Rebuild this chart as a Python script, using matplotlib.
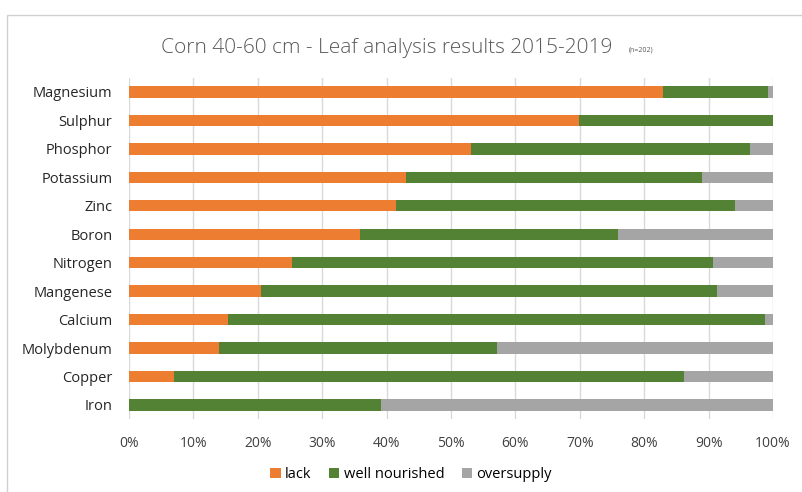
import numpy as np
import matplotlib.pyplot as plt
from matplotlib.patches import Rectangle

plt.rcParams['font.family'] = ['Open Sans', 'DejaVu Sans']

nutrients = ['Magnesium', 'Sulphur', 'Phosphor', 'Potassium', 'Zinc', 'Boron',
             'Nitrogen', 'Mangenese', 'Calcium', 'Molybdenum', 'Copper', 'Iron']
lack = [82.9, 69.9, 53.1, 43.0, 41.5, 35.9, 25.3, 20.5, 15.4, 14.0, 7.0, 0.0]
well = [16.3, 30.1, 43.3, 46.0, 52.6, 40.0, 65.4, 70.8, 83.4, 43.1, 79.2, 39.1]
over = [0.8, 0.0, 3.6, 11.0, 5.9, 24.1, 9.3, 8.7, 1.2, 42.9, 13.8, 60.9]

c_lack = '#ED7D31'
c_well = '#548235'
c_over = '#A5A5A5'

fig = plt.figure(figsize=(8.03, 4.92), dpi=100)
ax = fig.add_axes([0.1606, 0.148, 0.802, 0.694])

y = np.arange(len(nutrients))[::-1]
h = 0.4
lack_f = np.array(lack) / 100
well_f = np.array(well) / 100
over_f = np.array(over) / 100
ax.barh(y, lack_f, height=h, color=c_lack, label='lack', zorder=3)
ax.barh(y, well_f, left=lack_f, height=h, color=c_well, label='well nourished', zorder=3)
ax.barh(y, over_f, left=lack_f + well_f, height=h, color=c_over, label='oversupply', zorder=3)

ax.set_xlim(0, 1)
ax.set_ylim(-0.5, len(nutrients) - 0.5)
ax.set_xticks(np.arange(0, 1.01, 0.1))
ax.set_xticklabels([f'{int(round(v * 100))}%' for v in np.arange(0, 1.01, 0.1)])
ax.set_yticks(y)
ax.set_yticklabels(nutrients)
ax.grid(axis='x', color='#D9D9D9', linewidth=1, zorder=0)
for s in ax.spines.values():
    s.set_visible(False)
ax.tick_params(axis='both', length=0, labelsize=10, colors='#262626')
ax.tick_params(axis='x', pad=12, colors='#404040')
ax.tick_params(axis='y', pad=12, labelsize=10.5)

fig.text(0.2, 0.902, 'Corn 40-60 cm - Leaf analysis results 2015-2019', fontsize=15,
         color='#595959', ha='left', va='center', fontweight='light')
fig.text(0.783, 0.898, '(n=202)', fontsize=5, color='#595959', ha='left', va='center')

ax.legend(loc='center', bbox_to_anchor=(0.438, -0.162), ncol=3, frameon=False,
          fontsize=10.5, handlelength=0.7, handleheight=0.7, handletextpad=0.3,
          columnspacing=1.2)

fig.patches.append(Rectangle((7 / 803, -0.1), 1.2, 1 - 15 / 492 + 0.1,
                             transform=fig.transFigure, fill=False,
                             edgecolor='#D0D0D0', linewidth=1))

fig.savefig('out.png', dpi=100)
